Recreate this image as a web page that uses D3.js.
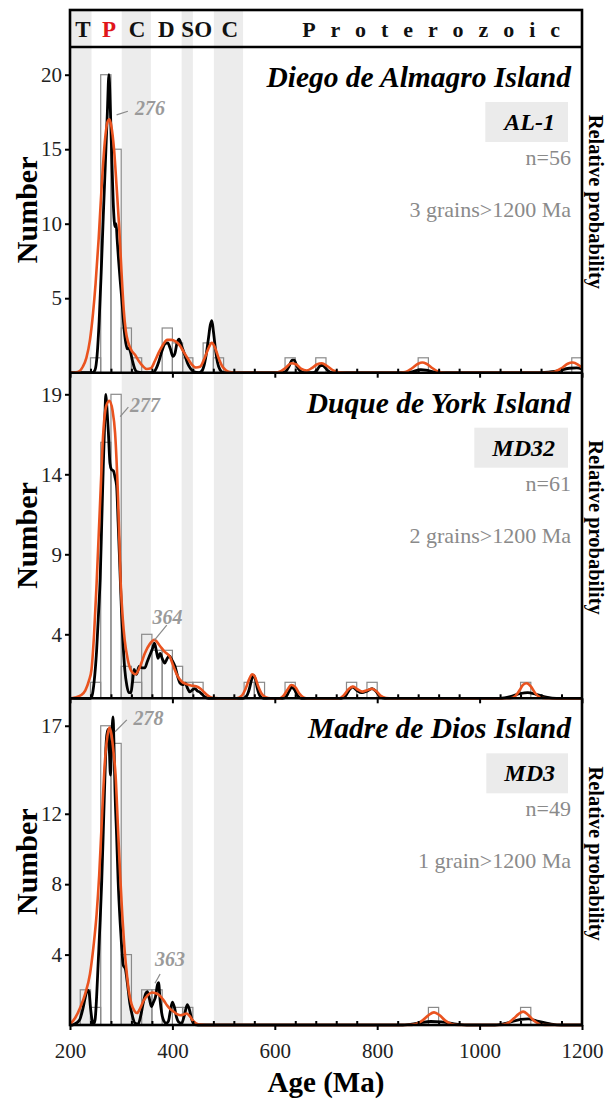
<!DOCTYPE html>
<html lang="en">
<head>
<meta charset="utf-8">
<title>Detrital zircon ages</title>
<script src="https://d3js.org/d3.v7.min.js"></script>
<style>
  html, body { margin: 0; padding: 0; background: #fff; }
  svg { display: block; font-family: "Liberation Serif", "Times New Roman", serif; }
  .tick line { stroke: #000; stroke-width: 2; }
</style>
</head>
<body>
<svg id="chart" width="611" height="1101"></svg>
<script>
// ---- geological time scale (header + grey bands)
const bandStarts = [200, 301, 418, 481];
const bandEnds = [242, 358, 440, 538];
const periodLabels = ["T", "P", "C", "D", "S", "O", "C"];
const periodAges = [225, 276, 331, 388, 430, 460, 512];
const eonLabel = "Proterozoic";
const eonAge = 920;

// ---- axis ticks
const xTicks = [200, 400, 600, 800, 1000, 1200];
const xMinor = d3.range(200, 1201, 40).filter(v => v % 200 !== 0);

// ---- panel 1 : AL-1
const bins1 = [240, 260, 280, 300, 320, 380, 400, 420, 460, 480, 620, 680, 880, 1180];
const counts1 = [1, 20, 15, 3, 1, 3, 2, 1, 2, 1, 1, 1, 1, 1];
const yTicks1 = [5, 10, 15, 20];
const kde1 = [[200,0],[215,0.05],[225,0.4],[232,1.0],[239,2.2],[245,4.0],[250,6.0],[256,9.0],[262,12.6],[268,15.5],[273,16.8],[277,17.0],[281,16.5],[286,15.0],[291,12.5],[296,9.8],[301,6.5],[305,4.2],[309,2.8],[314,2.0],[320,1.5],[327,1.2],[334,0.8],[342,0.45],[350,0.25],[358,0.3],[366,0.8],[374,1.4],[382,1.9],[390,2.2],[398,2.2],[406,2.1],[414,1.85],[422,1.4],[430,0.95],[438,0.55],[446,0.35],[454,0.4],[462,0.9],[470,1.6],[477,2.0],[483,1.7],[490,1.0],[497,0.45],[505,0.15],[515,0.03],[530,0],[600,0],[612,0.1],[622,0.35],[632,0.63],[642,0.55],[652,0.25],[662,0.15],[672,0.3],[682,0.55],[692,0.63],[702,0.45],[714,0.15],[725,0.03],[740,0],[840,0],[855,0.05],[868,0.3],[880,0.6],[888,0.68],[896,0.6],[908,0.3],[920,0.07],[935,0],[1130,0],[1145,0.05],[1160,0.3],[1172,0.6],[1182,0.68],[1192,0.55],[1200,0.35]];
const pdp1 = [[200,0],[244,0],[249,0.2],[253,1.2],[257,3.5],[261,6.8],[265,10.5],[269,14],[273,17.5],[276,20],[279,17.5],[282,14],[285,11],[288,9.8],[290,10],[292,9],[295,7.5],[298,6.2],[301,5],[305,3.2],[309,2.0],[312,1.6],[315,1.65],[318,1.4],[322,0.8],[326,0.3],[331,0.05],[340,0],[362,0],[368,0.25],[374,0.8],[380,1.5],[386,1.95],[391,2.0],[396,1.6],[401,1.1],[405,1.3],[409,2.0],[413,2.25],[418,1.8],[424,1.2],[430,0.6],[436,0.25],[442,0.05],[452,0],[459,0.2],[465,1.0],[470,2.2],[474,3.2],[477,3.5],[480,2.8],[484,1.6],[488,0.7],[493,0.2],[500,0],[615,0],[622,0.1],[628,0.45],[634,0.85],[638,0.85],[643,0.45],[650,0.1],[658,0],[675,0],[682,0.15],[688,0.45],[693,0.5],[698,0.35],[705,0.1],[712,0],[850,0],[870,0.08],[885,0.2],[895,0.18],[910,0.05],[925,0],[1120,0],[1150,0.1],[1175,0.3],[1190,0.32],[1200,0.25]];

// ---- panel 2 : MD32
const bins2 = [240, 260, 280, 300, 320, 340, 360, 380, 400, 420, 440, 540, 560, 620, 740, 780, 1080];
const counts2 = [1, 16, 19, 2, 1, 4, 3, 3, 2, 1, 1, 1, 1, 1, 1, 1, 1];
const yTicks2 = [4, 9, 14, 19];
const kde2 = [[200,0],[210,0.05],[222,0.2],[230,0.5],[237,1.1],[242,1.8],[247,4.0],[252,7.2],[259,12.4],[265,16.6],[271,18.3],[277,18.6],[283,18.0],[288,16.6],[294,12.4],[299,7.2],[303,5.0],[307,3.6],[313,2.4],[320,1.7],[328,1.5],[337,2.0],[346,2.8],[356,3.4],[365,3.65],[375,3.3],[385,2.9],[395,2.6],[402,2.0],[410,1.4],[418,1.05],[426,0.9],[436,0.8],[446,0.75],[455,0.6],[463,0.35],[470,0.15],[478,0.03],[490,0],[525,0],[535,0.15],[543,0.6],[550,1.2],[556,1.5],[561,1.35],[567,0.8],[574,0.3],[582,0.07],[592,0],[610,0],[618,0.2],[625,0.55],[632,0.83],[640,0.7],[648,0.3],[656,0.06],[665,0],[725,0],[735,0.2],[745,0.6],[753,0.73],[762,0.55],[771,0.42],[780,0.5],[790,0.6],[798,0.45],[807,0.15],[817,0.02],[830,0],[1060,0],[1070,0.15],[1078,0.5],[1085,0.85],[1092,0.94],[1100,0.75],[1108,0.35],[1117,0.08],[1130,0],[1200,0]];
const pdp2 = [[200,0],[240,0],[243,0.15],[247,1.0],[252,3.0],[256,5.5],[259,7.5],[262,11],[265,14.5],[268,17.5],[270,19],[272,18.2],[275,16.6],[278,14.7],[281,14.3],[285,14.2],[288,13.8],[291,13.3],[294,11],[297,8.5],[301,5.1],[304,3.2],[307,1.8],[311,0.8],[315,0.35],[319,0.35],[322,1.0],[325,1.8],[330,1.5],[335,2.0],[341,1.9],[346,1.9],[351,2.3],[356,2.7],[361,3.1],[365,3.45],[369,2.9],[372,2.5],[376,2.8],[380,2.5],[385,2.2],[390,2.5],[394,2.65],[399,2.4],[405,2.0],[410,1.4],[415,0.95],[420,0.85],[425,0.95],[430,0.6],[434,0.4],[440,0.55],[444,0.6],[449,0.45],[453,0.4],[458,0.25],[463,0.1],[470,0],[538,0],[545,0.15],[550,0.55],[555,1.2],[558,1.45],[562,1.2],[566,0.6],[571,0.15],[578,0],[615,0],[622,0.1],[628,0.45],[633,0.7],[638,0.55],[645,0.15],[652,0],[730,0],[738,0.15],[745,0.5],[752,0.7],[760,0.5],[770,0.35],[780,0.45],[790,0.6],[797,0.45],[805,0.12],[815,0],[1040,0],[1060,0.1],[1080,0.3],[1094,0.35],[1110,0.25],[1130,0.08],[1150,0],[1200,0]];

// ---- panel 3 : MD3
const bins3 = [220, 240, 260, 280, 300, 340, 360, 400, 420, 900, 1080];
const counts3 = [2, 1, 17, 16, 4, 2, 2, 1, 1, 1, 1];
const yTicks3 = [4, 8, 12, 17];
const kde3 = [[200,0.05],[210,0.4],[220,1.0],[230,1.8],[239,2.9],[246,4.5],[252,6.3],[257,8.5],[262,11.5],[268,14.9],[273,16.4],[277,16.9],[281,16.5],[285,15.5],[289,14.2],[294,11.0],[298,8.5],[302,6.3],[306,4.5],[310,3.2],[315,1.9],[320,1.2],[326,0.8],[331,0.68],[337,0.95],[344,1.4],[352,1.7],[360,1.85],[368,1.8],[376,1.65],[383,1.4],[390,1.1],[396,0.9],[403,0.75],[410,0.6],[416,0.55],[422,0.6],[428,0.65],[434,0.5],[440,0.25],[446,0.1],[455,0.02],[465,0],[860,0],[875,0.05],[888,0.25],[900,0.55],[911,0.72],[922,0.55],[933,0.25],[945,0.06],[958,0],[1040,0],[1055,0.1],[1066,0.35],[1076,0.62],[1085,0.76],[1094,0.6],[1104,0.3],[1115,0.08],[1128,0],[1200,0]];
const pdp3 = [[200,0],[205,0],[212,0.1],[219,0.3],[225,0.9],[230,1.6],[234,2.0],[237,1.9],[240,1.0],[243,0.3],[246,0.05],[249,0.3],[252,1.6],[255,3.5],[259,6.0],[262,8.2],[265,11],[268,13.9],[271,16.2],[274,16.8],[277,15.5],[279,14.2],[281,15.8],[284,17.5],[286,15.8],[288,13.2],[291,10.8],[294,8.2],[298,5.8],[301,4.4],[304,3.4],[308,3.2],[312,2.4],[317,1.2],[322,0.5],[327,0.1],[333,0.05],[338,0.5],[343,1.25],[348,1.8],[351,1.9],[355,1.5],[359,1.05],[363,1.3],[367,1.6],[371,2.3],[373,2.4],[376,1.4],[379,0.7],[383,0.25],[388,0.1],[392,0.2],[396,0.8],[400,1.3],[404,1.0],[408,0.45],[413,0.15],[418,0.1],[423,0.5],[429,1.15],[433,0.9],[438,0.3],[444,0.02],[450,0],[850,0],[880,0.1],[905,0.2],[925,0.18],[950,0.06],[975,0],[1030,0],[1055,0.12],[1080,0.32],[1095,0.35],[1115,0.2],[1140,0.05],[1160,0],[1200,0]];

// ---- panel texts
const islands = ["Diego de Almagro Island", "Duque de York Island", "Madre de Dios Island"];
const samples = ["AL-1", "MD32", "MD3"];
const nGrains = ["n=56", "n=61", "n=49"];
const oldGrains = ["3 grains>1200 Ma", "2 grains>1200 Ma", "1 grain>1200 Ma"];
const yMax = [21.86, 20.35, 18.56];

// peak labels: [panel, text, textAge, textValue, lineAge1, lineVal1, lineAge2, lineVal2]
const peakLabels = [
  [0, "276", 327, 17.3, 291, 17.3, 313, 17.55],
  [1, "277", 317, 17.9, 298, 17.6, 314, 18.2],
  [1, "364", 361, 4.64, 365, 3.64, 389, 4.58],
  [2, "278", 324, 17.07, 288, 16.66, 311, 17.33],
  [2, "363", 366, 3.35, 366, 2.37, 376, 2.9]
];

const panels = [
  { bins: bins1, counts: counts1, kde: kde1, pdp: pdp1, ticks: yTicks1 },
  { bins: bins2, counts: counts2, kde: kde2, pdp: pdp2, ticks: yTicks2 },
  { bins: bins3, counts: counts3, kde: kde3, pdp: pdp3, ticks: yTicks3 }
];

// ---- layout
const left = 70, right = 582, headTop = 10, headBottom = 47;
const panelTops = [47, 372.7, 698.3];
const panelBottoms = [372.7, 698.3, 1025];
const binWidth = 20;
const serif = "'Liberation Serif', 'Times New Roman', serif";

const svg = d3.select("#chart");
const x = d3.scaleLinear().domain([200, 1200]).range([left, right]);

// axis text style (d3 puts sans-serif on the axis group)
const styleAxis = a => a
  .attr("font-family", serif)
  .attr("font-size", 21)
  .call(s => s.select(".domain").remove())
  .call(s => s.selectAll(".tick text").attr("fill", "#222"));

// bands
svg.append("g").selectAll("rect")
  .data(bandStarts)
  .join("rect")
  .attr("x", (d) => x(d))
  .attr("width", (d, i) => x(bandEnds[i]) - x(d))
  .attr("y", headTop)
  .attr("height", panelBottoms[2] - headTop)
  .attr("fill", "#ececec");

// header labels
svg.append("g").selectAll("text")
  .data(periodLabels)
  .join("text")
  .attr("x", (d, i) => x(periodAges[i]))
  .attr("y", 37)
  .attr("text-anchor", "middle")
  .attr("font-size", 23)
  .attr("font-weight", "bold")
  .attr("fill", (d, i) => i === 1 ? "#e0161b" : "#111")
  .text(d => d);

svg.append("text")
  .attr("x", x(eonAge))
  .attr("y", 37)
  .attr("text-anchor", "middle")
  .attr("font-size", 22)
  .attr("font-weight", "bold")
  .attr("letter-spacing", 15)
  .attr("fill", "#111")
  .text(eonLabel);

panels.forEach((p, i) => {
  const top = panelTops[i], bottom = panelBottoms[i];
  const y = d3.scaleLinear().domain([0, yMax[i]]).range([bottom, top]);
  const g = svg.append("g");

  // histogram
  g.append("g").selectAll("rect")
    .data(p.bins)
    .join("rect")
    .attr("x", d => x(d))
    .attr("width", d => x(d + binWidth) - x(d))
    .attr("y", (d, j) => y(p.counts[j]))
    .attr("height", (d, j) => bottom - y(p.counts[j]))
    .attr("fill", "none")
    .attr("stroke", "#8a8a8a")
    .attr("stroke-width", 1.2);

  const line = d3.line()
    .x(d => x(d[0]))
    .y(d => y(d[1]))
    .curve(d3.curveMonotoneX);

  g.append("path")
    .attr("d", line(p.pdp))
    .attr("fill", "none")
    .attr("stroke", "#000")
    .attr("stroke-width", 2.8)
    .attr("stroke-linejoin", "round");

  g.append("path")
    .attr("d", line(p.kde))
    .attr("fill", "none")
    .attr("stroke", "#ea531f")
    .attr("stroke-width", 2.6)
    .attr("stroke-linejoin", "round");

  // x axis ticks on each baseline
  const major = d3.axisBottom(x).tickValues(xTicks).tickSizeInner(5).tickSizeOuter(0).tickPadding(13)
    .tickFormat(i === 2 ? d3.format("d") : "");
  g.append("g")
    .attr("transform", `translate(0,${bottom})`)
    .call(major)
    .call(styleAxis);
  g.append("g")
    .attr("transform", `translate(0,${bottom})`)
    .call(d3.axisBottom(x).tickValues(xMinor).tickSizeInner(-4).tickSizeOuter(0).tickFormat(""))
    .call(styleAxis);

  // y axis
  g.append("g")
    .attr("transform", `translate(${left},0)`)
    .call(d3.axisLeft(y).tickValues(p.ticks).tickSizeInner(5).tickSizeOuter(0).tickPadding(3))
    .call(styleAxis);

  // side labels
  g.append("text")
    .attr("transform", `translate(37,${(top + bottom) / 2}) rotate(-90)`)
    .attr("text-anchor", "middle")
    .attr("font-size", 30)
    .attr("font-weight", "bold")
    .text("Number");

  g.append("text")
    .attr("transform", `translate(589,${(top + bottom) / 2 - 8}) rotate(90)`)
    .attr("text-anchor", "middle")
    .attr("font-size", 20.5)
    .attr("font-weight", "bold")
    .text("Relative probability");

  // titles
  g.append("text")
    .attr("x", 571).attr("y", top + 40)
    .attr("text-anchor", "end")
    .attr("font-size", 29.5)
    .attr("font-weight", "bold")
    .attr("font-style", "italic")
    .text(islands[i]);

  const boxG = g.append("g");
  const sample = boxG.append("text")
    .attr("x", 555).attr("y", top + 83)
    .attr("text-anchor", "end")
    .attr("font-size", 24)
    .attr("font-weight", "bold")
    .attr("font-style", "italic")
    .text(samples[i]);
  const bb = sample.node().getBBox();
  boxG.insert("rect", () => sample.node())
    .attr("x", bb.x - 17).attr("y", top + 55)
    .attr("width", 568 - (bb.x - 17)).attr("height", 40)
    .attr("fill", "#ebebeb");

  g.append("text")
    .attr("x", 571).attr("y", top + 118)
    .attr("text-anchor", "end")
    .attr("font-size", 22)
    .attr("fill", "#8a8a8a")
    .text(nGrains[i]);

  g.append("text")
    .attr("x", 571).attr("y", top + 170)
    .attr("text-anchor", "end")
    .attr("font-size", 22)
    .attr("fill", "#8a8a8a")
    .text(oldGrains[i]);

  // peak labels
  peakLabels.filter(d => d[0] === i).forEach(d => {
    g.append("line")
      .attr("x1", x(d[4])).attr("y1", y(d[5]))
      .attr("x2", x(d[6])).attr("y2", y(d[7]))
      .attr("stroke", "#8a8a8a")
      .attr("stroke-width", 1.2);
    g.append("text")
      .attr("x", x(d[2])).attr("y", y(d[3]))
      .attr("font-size", 20)
      .attr("font-weight", "bold")
      .attr("font-style", "italic")
      .attr("fill", "#9a9a9a")
      .text(d[1]);
  });
});

// frame
const frame = svg.append("g").attr("stroke", "#000").attr("stroke-width", 2.6).attr("fill", "none");
frame.append("rect")
  .attr("x", left).attr("y", headTop)
  .attr("width", right - left).attr("height", panelBottoms[2] - headTop);
[headBottom, panelBottoms[0], panelBottoms[1]].forEach(v => {
  frame.append("line").attr("x1", left).attr("x2", right).attr("y1", v).attr("y2", v);
});

// x axis title
svg.append("text")
  .attr("x", (left + right) / 2)
  .attr("y", 1092)
  .attr("text-anchor", "middle")
  .attr("font-size", 29)
  .attr("font-weight", "bold")
  .text("Age (Ma)");
</script>
</body>
</html>
